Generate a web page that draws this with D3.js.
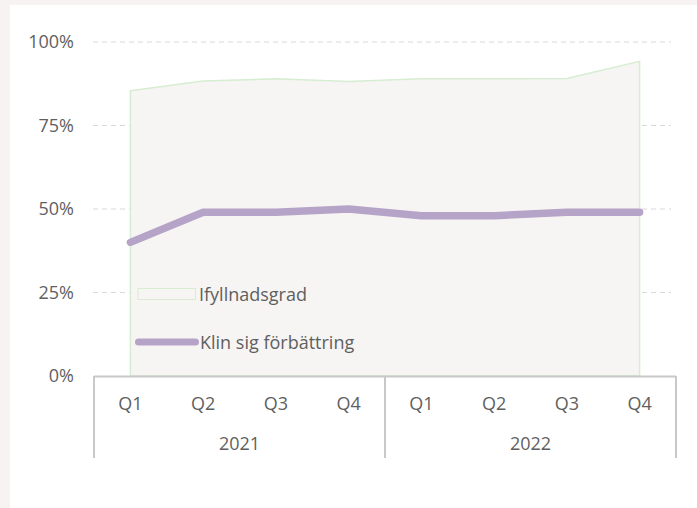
<!DOCTYPE html>
<html><head><meta charset="utf-8">
<script src="https://cdn.jsdelivr.net/npm/d3@7"></script>
<style>
html,body{margin:0;padding:0;background:#f7f3f2;}
svg{display:block;}
text{font-family:"Open Sans","Noto Sans",sans-serif;fill:#5f5f5f;}
</style></head>
<body>
<svg id="chart" width="697" height="508"></svg>
<script>
const years = ["2021", "2022"];
const quarters = ["Q1", "Q2", "Q3", "Q4"];
const ifyllnadsgrad = [0.854, 0.883, 0.89, 0.882, 0.89, 0.89, 0.891, 0.942];
const klinSigForbattring = [0.40, 0.49, 0.49, 0.50, 0.48, 0.48, 0.49, 0.49];
const yTicks = [0, 0.25, 0.5, 0.75, 1];
const seriesNames = ["Ifyllnadsgrad", "Klin sig förbättring"];

const cats = [];
years.forEach(y => quarters.forEach(q => cats.push(y + "-" + q)));

const svg = d3.select("#chart");
svg.append("rect").attr("x", 10).attr("y", 5).attr("width", 687).attr("height", 503).attr("fill", "#fff");

const x = d3.scalePoint().domain(cats).range([130.4, 639.6]);
const step = x.step();
const left = x(cats[0]) - step / 2, right = x(cats[cats.length - 1]) + step / 2;
const y = d3.scaleLinear().domain([0, 1]).range([376, 42]);
const fs = 18;

// gridlines
svg.append("g").selectAll("line").data(yTicks.filter(d => d > 0)).join("line")
  .attr("x1", 93).attr("x2", 671).attr("y1", d => y(d)).attr("y2", d => y(d))
  .attr("stroke", "#d9d9d9").attr("stroke-width", 1).attr("stroke-dasharray", "5,4");

// y labels
svg.append("g").selectAll("text").data(yTicks).join("text")
  .attr("x", 74).attr("y", d => y(d)).attr("dy", "0.35em")
  .attr("text-anchor", "end").attr("font-size", fs)
  .text(d => d3.format(".0%")(d));

// area
const area = d3.area().x((d, i) => x(cats[i])).y0(y(0)).y1(d => y(d));
svg.append("path").datum(ifyllnadsgrad).attr("d", area)
  .attr("fill", "#f6f5f3").attr("stroke", "#d6edd1").attr("stroke-width", 1.5);

// line
const line = d3.line().x((d, i) => x(cats[i])).y(d => y(d));
svg.append("path").datum(klinSigForbattring).attr("d", line)
  .attr("fill", "none").attr("stroke", "#b6a3c8").attr("stroke-width", 7.5)
  .attr("stroke-linecap", "round").attr("stroke-linejoin", "round");

// category axis box
const ax = svg.append("g").attr("stroke", "#c8c8c8").attr("stroke-width", 2);
ax.append("line").attr("x1", left).attr("x2", right).attr("y1", y(0) + 0.5).attr("y2", y(0) + 0.5);
const seps = [left, x(cats[3]) + step / 2, right];
ax.selectAll("line.sep").data(seps).join("line").attr("class", "sep")
  .attr("x1", d => d).attr("x2", d => d).attr("y1", y(0)).attr("y2", 458);

svg.append("g").selectAll("text").data(cats).join("text")
  .attr("x", d => x(d)).attr("y", 403.5).attr("dy", "0.35em")
  .attr("text-anchor", "middle").attr("font-size", fs)
  .text(d => d.split("-")[1]);

svg.append("g").selectAll("text").data(years).join("text")
  .attr("x", (d, i) => (seps[i] + seps[i + 1]) / 2).attr("y", 443.5).attr("dy", "0.35em")
  .attr("text-anchor", "middle").attr("font-size", fs)
  .text(d => d);

// legend
const lg = svg.append("g");
lg.append("rect").attr("x", 138).attr("y", 288.5).attr("width", 57.5).attr("height", 11)
  .attr("fill", "#f6f5f3").attr("stroke", "#d6edd1").attr("stroke-width", 1);
lg.append("text").attr("x", 199).attr("y", 294.5).attr("dy", "0.35em").attr("font-size", fs).text(seriesNames[0]);
lg.append("line").attr("x1", 138.5).attr("x2", 195.5).attr("y1", 342).attr("y2", 342)
  .attr("stroke", "#b6a3c8").attr("stroke-width", 7).attr("stroke-linecap", "round");
lg.append("text").attr("x", 200).attr("y", 342.5).attr("dy", "0.35em").attr("font-size", fs).text(seriesNames[1]);
</script>
</body></html>
